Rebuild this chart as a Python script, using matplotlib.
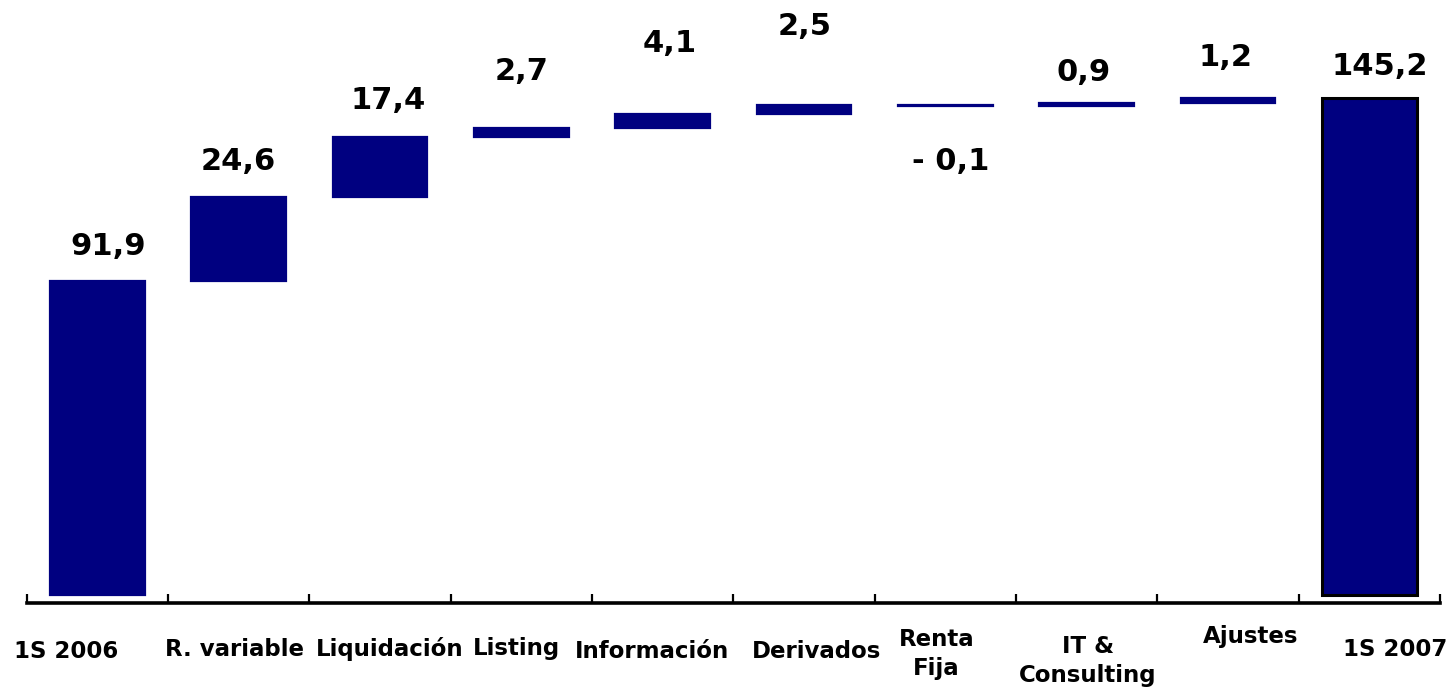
import matplotlib
matplotlib.use('Agg')
import matplotlib.pyplot as plt
from matplotlib.transforms import offset_copy

categories = ['1S 2006', 'R. variable', 'Liquidación', 'Listing', 'Información',
              'Derivados', 'Renta\nFija', 'IT &\nConsulting', 'Ajustes', '1S 2007']
start_value = 91.9
changes = [24.6, 17.4, 2.7, 4.1, 2.5, -0.1, 0.9, 1.2]
end_value = 145.2
value_labels = ['91,9', '24,6', '17,4', '2,7', '4,1', '2,5', '- 0,1', '0,9', '1,2', '145,2']

NAVY = '#000080'
DPI = 100


def waterfall_bars():
    bottoms = [0]
    heights = [start_value]
    level = start_value
    for c in changes:
        bottoms.append(level)
        heights.append(c)
        level += c
    bottoms.append(0)
    heights.append(end_value)
    return bottoms, heights


def main():
    plt.rcParams['font.family'] = ['DejaVu Sans']
    fig = plt.figure(figsize=(1447 / DPI, 693 / DPI), dpi=DPI)
    # axes: spine at y=603px, x from 26.5px to 1440px
    ax = fig.add_axes([26.5 / 1447, (693 - 603) / 693, 1413.5 / 1447, 603 / 693])

    bottoms, heights = waterfall_bars()
    xs = list(range(len(categories)))
    for i, (b, h) in enumerate(zip(bottoms, heights)):
        if i == len(xs) - 1:
            ax.bar(i, h, bottom=b, width=0.67, color=NAVY,
                   edgecolor='black', linewidth=2.2)
        else:
            ax.bar(i, h, bottom=b, width=0.67, color=NAVY,
                   edgecolor=NAVY, linewidth=1.6)

    # value labels (offsets in pixels from bar end)
    label_dy = [34, 35, 37, 56, 70, 79, -56, 30, 41, 32]
    label_dx = [11, 0, 8, 0, 7, 1, 5, -3, -2, 10]
    for i, (b, h) in enumerate(zip(bottoms, heights)):
        y = b + h
        ax.annotate(value_labels[i], (i, y),
                    xytext=(label_dx[i] * 0.72, label_dy[i] * 0.72),
                    textcoords='offset points', ha='center', va='center',
                    fontsize=22, fontweight='bold', color='black')

    # category labels
    cat_dx = [-31, -4, 10, -5, -11, 13, -9, 1, 23, 26]
    cat_y = [652, 649, 649, 649, 652, 652, 654, 661, 637, 649]
    trans = ax.get_xaxis_transform()
    for i, name in enumerate(categories):
        t = offset_copy(trans, fig=fig, x=cat_dx[i] * 0.72, y=0, units='points')
        ax.text(i, -(cat_y[i] - 603) / 603, name, transform=t,
                ha='center', va='center', fontsize=16.5, fontweight='bold',
                linespacing=1.35)

    ax.set_xlim(-0.5, len(categories) - 0.5)
    ax.set_ylim(-2.34, 174.0)
    ax.set_xticks([x - 0.5 for x in range(len(categories) + 1)])
    ax.set_xticklabels([])
    ax.tick_params(axis='x', direction='in', length=6.5, width=1.6, color='black')
    ax.set_yticks([])
    for side in ['left', 'right', 'top']:
        ax.spines[side].set_visible(False)
    ax.spines['bottom'].set_linewidth(2.6)
    ax.spines['bottom'].set_color('black')
    ax.patch.set_alpha(0)

    fig.savefig('out.png', dpi=DPI)


if __name__ == '__main__':
    main()
